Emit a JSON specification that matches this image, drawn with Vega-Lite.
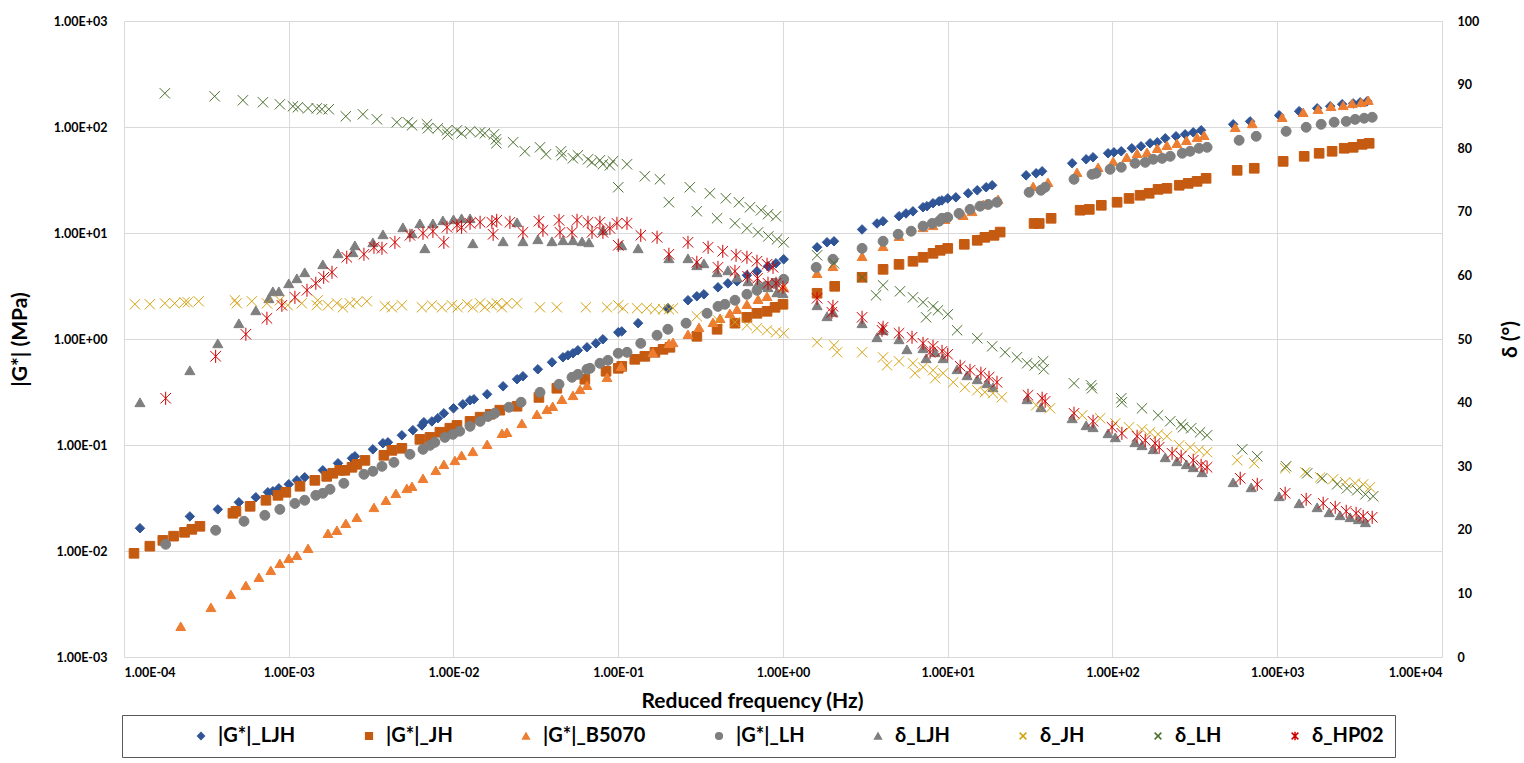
{
"$schema":"https://vega.github.io/schema/vega-lite/v6.json",
"width":1318,"height":636,
"autosize":{"type":"none"},
"padding":{"left":124,"top":21,"right":82,"bottom":106},
"background":"white",
"config":{"view":{"stroke":null},"font":"Lato",
"axis":{"labelColor":"#000","labelFontWeight":"bold","labelFontSize":12.5,"titleColor":"#000","titleFontWeight":"bold","gridColor":"#d9d9d9","gridWidth":1,"domain":false,"ticks":false},
"legend":{"labelFontSize":20,"labelFontWeight":"bold","labelColor":"#000","symbolSize":45,"symbolStrokeWidth":1.5,"orient":"none","legendX":-2,"legendY":694,"direction":"horizontal","columns":8,"columnPadding":63,"padding":11,"strokeColor":"#595959","labelOffset":7,"titleOrient":"left","titlePadding":58,"labelExpr":"datum.label == 'δ_HP02' ? 'δ_HP02                                 ' : datum.label"}},
"data":{"values":[
{"s":"|G*|_LJH","f":1.25e-4,"v":0.0164},{"s":"|G*|_LJH","f":2.51e-4,"v":0.0212},{"s":"|G*|_LJH","f":3.71e-4,"v":0.0247},{"s":"|G*|_LJH","f":4.98e-4,"v":0.0288},{"s":"|G*|_LJH","f":6.31e-4,"v":0.0321},{"s":"|G*|_LJH","f":7.47e-4,"v":0.0358},{"s":"|G*|_LJH","f":8.01e-4,"v":0.0366},{"s":"|G*|_LJH","f":8.71e-4,"v":0.039},{"s":"|G*|_LJH","f":1.0e-3,"v":0.0426},{"s":"|G*|_LJH","f":1.12e-3,"v":0.0464},{"s":"|G*|_LJH","f":1.25e-3,"v":0.0496},{"s":"|G*|_LJH","f":1.61e-3,"v":0.0577},{"s":"|G*|_LJH","f":1.99e-3,"v":0.0672},{"s":"|G*|_LJH","f":2.42e-3,"v":0.0749},{"s":"|G*|_LJH","f":2.52e-3,"v":0.0782},{"s":"|G*|_LJH","f":3.24e-3,"v":0.091},{"s":"|G*|_LJH","f":3.73e-3,"v":0.104},{"s":"|G*|_LJH","f":4.0e-3,"v":0.106},{"s":"|G*|_LJH","f":4.86e-3,"v":0.1235},{"s":"|G*|_LJH","f":5.67e-3,"v":0.138},{"s":"|G*|_LJH","f":6.43e-3,"v":0.153},{"s":"|G*|_LJH","f":6.61e-3,"v":0.164},{"s":"|G*|_LJH","f":7.39e-3,"v":0.167},{"s":"|G*|_LJH","f":8.04e-3,"v":0.179},{"s":"|G*|_LJH","f":8.74e-3,"v":0.199},{"s":"|G*|_LJH","f":1.0e-2,"v":0.222},{"s":"|G*|_LJH","f":1.14e-2,"v":0.242},{"s":"|G*|_LJH","f":1.26e-2,"v":0.264},{"s":"|G*|_LJH","f":1.33e-2,"v":0.27},{"s":"|G*|_LJH","f":1.6e-2,"v":0.301},{"s":"|G*|_LJH","f":2.0e-2,"v":0.358},{"s":"|G*|_LJH","f":2.43e-2,"v":0.417},{"s":"|G*|_LJH","f":2.64e-2,"v":0.445},{"s":"|G*|_LJH","f":3.25e-2,"v":0.518},{"s":"|G*|_LJH","f":3.96e-2,"v":0.603},{"s":"|G*|_LJH","f":4.62e-2,"v":0.672},{"s":"|G*|_LJH","f":4.95e-2,"v":0.702},{"s":"|G*|_LJH","f":5.31e-2,"v":0.733},{"s":"|G*|_LJH","f":5.69e-2,"v":0.782},{"s":"|G*|_LJH","f":6.46e-2,"v":0.835},{"s":"|G*|_LJH","f":7.32e-2,"v":0.91},{"s":"|G*|_LJH","f":8.07e-2,"v":0.994},{"s":"|G*|_LJH","f":0.1,"v":1.157},{"s":"|G*|_LJH","f":0.105,"v":1.18},{"s":"|G*|_LJH","f":0.132,"v":1.41},{"s":"|G*|_LJH","f":0.2,"v":1.95},{"s":"|G*|_LJH","f":0.265,"v":2.32},{"s":"|G*|_LJH","f":0.3,"v":2.53},{"s":"|G*|_LJH","f":0.331,"v":2.64},{"s":"|G*|_LJH","f":0.403,"v":3.07},{"s":"|G*|_LJH","f":0.463,"v":3.35},{"s":"|G*|_LJH","f":0.526,"v":3.5},{"s":"|G*|_LJH","f":0.604,"v":3.99},{"s":"|G*|_LJH","f":0.695,"v":4.35},{"s":"|G*|_LJH","f":0.811,"v":4.85},{"s":"|G*|_LJH","f":0.907,"v":5.18},{"s":"|G*|_LJH","f":1.01,"v":5.65},{"s":"|G*|_LJH","f":1.61,"v":7.33},{"s":"|G*|_LJH","f":1.85,"v":8.17},{"s":"|G*|_LJH","f":2.04,"v":8.35},{"s":"|G*|_LJH","f":3.02,"v":10.8},{"s":"|G*|_LJH","f":3.72,"v":12.3},{"s":"|G*|_LJH","f":4.05,"v":12.9},{"s":"|G*|_LJH","f":5.06,"v":14.4},{"s":"|G*|_LJH","f":5.58,"v":15.3},{"s":"|G*|_LJH","f":6.15,"v":16.0},{"s":"|G*|_LJH","f":7.08,"v":17.5},{"s":"|G*|_LJH","f":7.48,"v":17.9},{"s":"|G*|_LJH","f":8.14,"v":19.1},{"s":"|G*|_LJH","f":8.85,"v":19.9},{"s":"|G*|_LJH","f":9.23,"v":20.3},{"s":"|G*|_LJH","f":10.0,"v":21.2},{"s":"|G*|_LJH","f":11.2,"v":21.7},{"s":"|G*|_LJH","f":13.3,"v":23.7},{"s":"|G*|_LJH","f":15.1,"v":25.3},{"s":"|G*|_LJH","f":17.1,"v":27.0},{"s":"|G*|_LJH","f":18.6,"v":28.2},{"s":"|G*|_LJH","f":29.9,"v":35.0},{"s":"|G*|_LJH","f":34.4,"v":36.6},{"s":"|G*|_LJH","f":37.4,"v":38.2},{"s":"|G*|_LJH","f":56.9,"v":45.5},{"s":"|G*|_LJH","f":69.2,"v":49.6},{"s":"|G*|_LJH","f":76.2,"v":51.8},{"s":"|G*|_LJH","f":94.0,"v":56.5},{"s":"|G*|_LJH","f":102,"v":57.7},{"s":"|G*|_LJH","f":113,"v":59.0},{"s":"|G*|_LJH","f":131,"v":63.0},{"s":"|G*|_LJH","f":149,"v":65.8},{"s":"|G*|_LJH","f":169,"v":70.2},{"s":"|G*|_LJH","f":187,"v":71.7},{"s":"|G*|_LJH","f":209,"v":78.2},{"s":"|G*|_LJH","f":243,"v":81.7},{"s":"|G*|_LJH","f":276,"v":85.3},{"s":"|G*|_LJH","f":309,"v":89.1},{"s":"|G*|_LJH","f":345,"v":93.1},{"s":"|G*|_LJH","f":540,"v":106},{"s":"|G*|_LJH","f":684,"v":113},{"s":"|G*|_LJH","f":1027,"v":129},{"s":"|G*|_LJH","f":1358,"v":141},{"s":"|G*|_LJH","f":1747,"v":150},{"s":"|G*|_LJH","f":2096,"v":157},{"s":"|G*|_LJH","f":2478,"v":164},{"s":"|G*|_LJH","f":2890,"v":167},{"s":"|G*|_LJH","f":3187,"v":171},{"s":"|G*|_LJH","f":3515,"v":175},
{"s":"|G*|_JH","f":1.15e-4,"v":0.00951},{"s":"|G*|_JH","f":1.435e-4,"v":0.0111},{"s":"|G*|_JH","f":1.72e-4,"v":0.0126},{"s":"|G*|_JH","f":2.0e-4,"v":0.0138},{"s":"|G*|_JH","f":2.33e-4,"v":0.015},{"s":"|G*|_JH","f":2.58e-4,"v":0.016},{"s":"|G*|_JH","f":2.89e-4,"v":0.0171},{"s":"|G*|_JH","f":4.58e-4,"v":0.0227},{"s":"|G*|_JH","f":4.78e-4,"v":0.0237},{"s":"|G*|_JH","f":5.83e-4,"v":0.0264},{"s":"|G*|_JH","f":7.27e-4,"v":0.0301},{"s":"|G*|_JH","f":8.6e-4,"v":0.0335},{"s":"|G*|_JH","f":9.6e-4,"v":0.0358},{"s":"|G*|_JH","f":1.17e-3,"v":0.0408},{"s":"|G*|_JH","f":1.44e-3,"v":0.0464},{"s":"|G*|_JH","f":1.7e-3,"v":0.0506},{"s":"|G*|_JH","f":1.85e-3,"v":0.0541},{"s":"|G*|_JH","f":2.04e-3,"v":0.0577},{"s":"|G*|_JH","f":2.19e-3,"v":0.0577},{"s":"|G*|_JH","f":2.42e-3,"v":0.0616},{"s":"|G*|_JH","f":2.59e-3,"v":0.0657},{"s":"|G*|_JH","f":2.9e-3,"v":0.0716},{"s":"|G*|_JH","f":3.78e-3,"v":0.0799},{"s":"|G*|_JH","f":4.23e-3,"v":0.089},{"s":"|G*|_JH","f":4.86e-3,"v":0.0931},{"s":"|G*|_JH","f":6.25e-3,"v":0.113},{"s":"|G*|_JH","f":7.2e-3,"v":0.118},{"s":"|G*|_JH","f":8.27e-3,"v":0.132},{"s":"|G*|_JH","f":9.5e-3,"v":0.144},{"s":"|G*|_JH","f":1.05e-2,"v":0.153},{"s":"|G*|_JH","f":1.26e-2,"v":0.167},{"s":"|G*|_JH","f":1.45e-2,"v":0.183},{"s":"|G*|_JH","f":1.67e-2,"v":0.195},{"s":"|G*|_JH","f":1.91e-2,"v":0.213},{"s":"|G*|_JH","f":2.43e-2,"v":0.232},{"s":"|G*|_JH","f":3.3e-2,"v":0.281},{"s":"|G*|_JH","f":4.24e-2,"v":0.343},{"s":"|G*|_JH","f":6.27e-2,"v":0.417},{"s":"|G*|_JH","f":8.43e-2,"v":0.496},{"s":"|G*|_JH","f":0.1,"v":0.529},{"s":"|G*|_JH","f":0.105,"v":0.552},{"s":"|G*|_JH","f":0.126,"v":0.643},{"s":"|G*|_JH","f":0.145,"v":0.686},{"s":"|G*|_JH","f":0.167,"v":0.749},{"s":"|G*|_JH","f":0.187,"v":0.799},{"s":"|G*|_JH","f":0.206,"v":0.835},{"s":"|G*|_JH","f":0.3,"v":1.06},{"s":"|G*|_JH","f":0.398,"v":1.235},{"s":"|G*|_JH","f":0.511,"v":1.41},{"s":"|G*|_JH","f":0.604,"v":1.6},{"s":"|G*|_JH","f":0.695,"v":1.747},{"s":"|G*|_JH","f":0.8,"v":1.825},{"s":"|G*|_JH","f":0.895,"v":1.99},{"s":"|G*|_JH","f":1.0,"v":2.125},{"s":"|G*|_JH","f":1.61,"v":2.7},{"s":"|G*|_JH","f":2.06,"v":3.14},{"s":"|G*|_JH","f":3.02,"v":3.82},{"s":"|G*|_JH","f":4.05,"v":4.54},{"s":"|G*|_JH","f":5.06,"v":5.06},{"s":"|G*|_JH","f":6.15,"v":5.41},{"s":"|G*|_JH","f":7.08,"v":5.9},{"s":"|G*|_JH","f":8.14,"v":6.43},{"s":"|G*|_JH","f":9.0,"v":6.86},{"s":"|G*|_JH","f":10.0,"v":7.16},{"s":"|G*|_JH","f":12.6,"v":7.82},{"s":"|G*|_JH","f":15.1,"v":8.53},{"s":"|G*|_JH","f":16.8,"v":9.1},{"s":"|G*|_JH","f":19.1,"v":9.5},{"s":"|G*|_JH","f":20.8,"v":10.2},{"s":"|G*|_JH","f":33.4,"v":12.3},{"s":"|G*|_JH","f":35.9,"v":12.3},{"s":"|G*|_JH","f":42.4,"v":13.76},{"s":"|G*|_JH","f":63.6,"v":16.4},{"s":"|G*|_JH","f":72.3,"v":16.7},{"s":"|G*|_JH","f":85.5,"v":18.25},{"s":"|G*|_JH","f":106.6,"v":19.5},{"s":"|G*|_JH","f":126,"v":21.2},{"s":"|G*|_JH","f":147,"v":22.7},{"s":"|G*|_JH","f":167,"v":23.7},{"s":"|G*|_JH","f":189,"v":25.8},{"s":"|G*|_JH","f":214,"v":26.4},{"s":"|G*|_JH","f":254,"v":28.2},{"s":"|G*|_JH","f":288,"v":29.4},{"s":"|G*|_JH","f":326,"v":30.7},{"s":"|G*|_JH","f":370,"v":32.8},{"s":"|G*|_JH","f":571,"v":39.0},{"s":"|G*|_JH","f":725,"v":40.8},{"s":"|G*|_JH","f":1086,"v":47.4},{"s":"|G*|_JH","f":1457,"v":52.9},{"s":"|G*|_JH","f":1796,"v":56.5},{"s":"|G*|_JH","f":2153,"v":59.0},{"s":"|G*|_JH","f":2549,"v":63.0},{"s":"|G*|_JH","f":2890,"v":64.3},{"s":"|G*|_JH","f":3277,"v":68.6},{"s":"|G*|_JH","f":3614,"v":70.2},
{"s":"|G*|_B5070","f":2.21e-4,"v":0.00195},{"s":"|G*|_B5070","f":3.37e-4,"v":0.00294},{"s":"|G*|_B5070","f":4.45e-4,"v":0.0039},{"s":"|G*|_B5070","f":5.49e-4,"v":0.00474},{"s":"|G*|_B5070","f":6.59e-4,"v":0.00565},{"s":"|G*|_B5070","f":7.78e-4,"v":0.00657},{"s":"|G*|_B5070","f":8.83e-4,"v":0.00765},{"s":"|G*|_B5070","f":1.0e-3,"v":0.00853},{"s":"|G*|_B5070","f":1.12e-3,"v":0.0091},{"s":"|G*|_B5070","f":1.31e-3,"v":0.0106},{"s":"|G*|_B5070","f":1.73e-3,"v":0.0147},{"s":"|G*|_B5070","f":1.96e-3,"v":0.0157},{"s":"|G*|_B5070","f":2.22e-3,"v":0.01825},{"s":"|G*|_B5070","f":2.59e-3,"v":0.0208},{"s":"|G*|_B5070","f":3.29e-3,"v":0.0258},{"s":"|G*|_B5070","f":3.89e-3,"v":0.0301},{"s":"|G*|_B5070","f":4.47e-3,"v":0.035},{"s":"|G*|_B5070","f":5.21e-3,"v":0.039},{"s":"|G*|_B5070","f":5.6e-3,"v":0.0408},{"s":"|G*|_B5070","f":6.53e-3,"v":0.0485},{"s":"|G*|_B5070","f":7.81e-3,"v":0.0577},{"s":"|G*|_B5070","f":8.74e-3,"v":0.0657},{"s":"|G*|_B5070","f":1.02e-2,"v":0.0716},{"s":"|G*|_B5070","f":1.12e-2,"v":0.0799},{"s":"|G*|_B5070","f":1.31e-2,"v":0.0871},{"s":"|G*|_B5070","f":1.6e-2,"v":0.1015},{"s":"|G*|_B5070","f":1.97e-2,"v":0.129},{"s":"|G*|_B5070","f":2.11e-2,"v":0.132},{"s":"|G*|_B5070","f":2.6e-2,"v":0.16},{"s":"|G*|_B5070","f":3.21e-2,"v":0.195},{"s":"|G*|_B5070","f":3.69e-2,"v":0.217},{"s":"|G*|_B5070","f":4.0e-2,"v":0.232},{"s":"|G*|_B5070","f":4.55e-2,"v":0.27},{"s":"|G*|_B5070","f":5.31e-2,"v":0.294},{"s":"|G*|_B5070","f":5.86e-2,"v":0.335},{"s":"|G*|_B5070","f":6.46e-2,"v":0.366},{"s":"|G*|_B5070","f":8.55e-2,"v":0.435},{"s":"|G*|_B5070","f":0.104,"v":0.552},{"s":"|G*|_B5070","f":0.162,"v":0.749},{"s":"|G*|_B5070","f":0.203,"v":0.91},{"s":"|G*|_B5070","f":0.215,"v":0.93},{"s":"|G*|_B5070","f":0.265,"v":1.108},{"s":"|G*|_B5070","f":0.309,"v":1.29},{"s":"|G*|_B5070","f":0.376,"v":1.437},{"s":"|G*|_B5070","f":0.415,"v":1.57},{"s":"|G*|_B5070","f":0.476,"v":1.747},{"s":"|G*|_B5070","f":0.526,"v":1.906},{"s":"|G*|_B5070","f":0.604,"v":2.125},{"s":"|G*|_B5070","f":0.706,"v":2.37},{"s":"|G*|_B5070","f":0.8,"v":2.53},{"s":"|G*|_B5070","f":0.92,"v":2.755},{"s":"|G*|_B5070","f":1.01,"v":3.07},{"s":"|G*|_B5070","f":1.61,"v":4.17},{"s":"|G*|_B5070","f":2.01,"v":4.85},{"s":"|G*|_B5070","f":3.02,"v":6.03},{"s":"|G*|_B5070","f":4.05,"v":7.49},{"s":"|G*|_B5070","f":5.06,"v":9.31},{"s":"|G*|_B5070","f":7.08,"v":11.3},{"s":"|G*|_B5070","f":8.14,"v":11.8},{"s":"|G*|_B5070","f":9.63,"v":13.5},{"s":"|G*|_B5070","f":12.4,"v":14.7},{"s":"|G*|_B5070","f":14.05,"v":16.0},{"s":"|G*|_B5070","f":16.4,"v":18.6},{"s":"|G*|_B5070","f":20.2,"v":20.8},{"s":"|G*|_B5070","f":33.0,"v":27.55},{"s":"|G*|_B5070","f":40.6,"v":30.1},{"s":"|G*|_B5070","f":60.9,"v":37.4},{"s":"|G*|_B5070","f":81.8,"v":41.7},{"s":"|G*|_B5070","f":101,"v":47.4},{"s":"|G*|_B5070","f":122,"v":51.8},{"s":"|G*|_B5070","f":141,"v":56.5},{"s":"|G*|_B5070","f":162,"v":57.7},{"s":"|G*|_B5070","f":187,"v":63.0},{"s":"|G*|_B5070","f":214,"v":67.2},{"s":"|G*|_B5070","f":246,"v":70.2},{"s":"|G*|_B5070","f":281,"v":74.9},{"s":"|G*|_B5070","f":326,"v":79.9},{"s":"|G*|_B5070","f":360,"v":83.5},{"s":"|G*|_B5070","f":556,"v":99.3},{"s":"|G*|_B5070","f":705,"v":108},{"s":"|G*|_B5070","f":1071,"v":123.5},{"s":"|G*|_B5070","f":1437,"v":137.6},{"s":"|G*|_B5070","f":1770,"v":147},{"s":"|G*|_B5070","f":2120,"v":157},{"s":"|G*|_B5070","f":2513,"v":160},{"s":"|G*|_B5070","f":2850,"v":167},{"s":"|G*|_B5070","f":3230,"v":171},{"s":"|G*|_B5070","f":3570,"v":179},
{"s":"|G*|_LH","f":1.79e-4,"v":0.01157},{"s":"|G*|_LH","f":3.6e-4,"v":0.0157},{"s":"|G*|_LH","f":5.35e-4,"v":0.01906},{"s":"|G*|_LH","f":7.16e-4,"v":0.0217},{"s":"|G*|_LH","f":8.83e-4,"v":0.0247},{"s":"|G*|_LH","f":1.09e-3,"v":0.0281},{"s":"|G*|_LH","f":1.25e-3,"v":0.0301},{"s":"|G*|_LH","f":1.46e-3,"v":0.0335},{"s":"|G*|_LH","f":1.61e-3,"v":0.035},{"s":"|G*|_LH","f":1.78e-3,"v":0.0382},{"s":"|G*|_LH","f":2.16e-3,"v":0.0435},{"s":"|G*|_LH","f":2.86e-3,"v":0.0529},{"s":"|G*|_LH","f":3.24e-3,"v":0.0565},{"s":"|G*|_LH","f":3.68e-3,"v":0.0629},{"s":"|G*|_LH","f":4.35e-3,"v":0.0686},{"s":"|G*|_LH","f":5.44e-3,"v":0.0817},{"s":"|G*|_LH","f":6.53e-3,"v":0.091},{"s":"|G*|_LH","f":7.2e-3,"v":0.0993},{"s":"|G*|_LH","f":7.7e-3,"v":0.106},{"s":"|G*|_LH","f":8.86e-3,"v":0.118},{"s":"|G*|_LH","f":9.92e-3,"v":0.126},{"s":"|G*|_LH","f":1.09e-2,"v":0.135},{"s":"|G*|_LH","f":1.26e-2,"v":0.15},{"s":"|G*|_LH","f":1.45e-2,"v":0.167},{"s":"|G*|_LH","f":1.62e-2,"v":0.186},{"s":"|G*|_LH","f":1.78e-2,"v":0.199},{"s":"|G*|_LH","f":2.17e-2,"v":0.227},{"s":"|G*|_LH","f":2.57e-2,"v":0.253},{"s":"|G*|_LH","f":3.35e-2,"v":0.314},{"s":"|G*|_LH","f":4.37e-2,"v":0.374},{"s":"|G*|_LH","f":5.24e-2,"v":0.435},{"s":"|G*|_LH","f":5.69e-2,"v":0.464},{"s":"|G*|_LH","f":6.46e-2,"v":0.518},{"s":"|G*|_LH","f":6.74e-2,"v":0.529},{"s":"|G*|_LH","f":7.74e-2,"v":0.59},{"s":"|G*|_LH","f":8.66e-2,"v":0.629},{"s":"|G*|_LH","f":0.1,"v":0.733},{"s":"|G*|_LH","f":0.113,"v":0.749},{"s":"|G*|_LH","f":0.137,"v":0.91},{"s":"|G*|_LH","f":0.172,"v":1.084},{"s":"|G*|_LH","f":0.2,"v":1.235},{"s":"|G*|_LH","f":0.258,"v":1.41},{"s":"|G*|_LH","f":0.346,"v":1.747},{"s":"|G*|_LH","f":0.403,"v":2.03},{"s":"|G*|_LH","f":0.444,"v":2.125},{"s":"|G*|_LH","f":0.511,"v":2.32},{"s":"|G*|_LH","f":0.604,"v":2.64},{"s":"|G*|_LH","f":0.695,"v":2.88},{"s":"|G*|_LH","f":0.79,"v":3.14},{"s":"|G*|_LH","f":0.895,"v":3.35},{"s":"|G*|_LH","f":1.01,"v":3.66},{"s":"|G*|_LH","f":1.59,"v":4.74},{"s":"|G*|_LH","f":2.01,"v":5.65},{"s":"|G*|_LH","f":3.02,"v":7.16},{"s":"|G*|_LH","f":4.05,"v":8.35},{"s":"|G*|_LH","f":5.0,"v":9.73},{"s":"|G*|_LH","f":6.0,"v":10.4},{"s":"|G*|_LH","f":7.08,"v":11.6},{"s":"|G*|_LH","f":8.04,"v":12.3},{"s":"|G*|_LH","f":8.85,"v":12.9},{"s":"|G*|_LH","f":9.23,"v":13.76},{"s":"|G*|_LH","f":10.0,"v":14.05},{"s":"|G*|_LH","f":11.7,"v":15.3},{"s":"|G*|_LH","f":13.65,"v":16.7},{"s":"|G*|_LH","f":15.7,"v":17.9},{"s":"|G*|_LH","f":17.6,"v":18.6},{"s":"|G*|_LH","f":19.9,"v":19.5},{"s":"|G*|_LH","f":31.2,"v":24.2},{"s":"|G*|_LH","f":36.8,"v":25.3},{"s":"|G*|_LH","f":39.0,"v":27.0},{"s":"|G*|_LH","f":58.4,"v":32.1},{"s":"|G*|_LH","f":75.1,"v":35.8},{"s":"|G*|_LH","f":79.5,"v":36.6},{"s":"|G*|_LH","f":96.7,"v":39.9},{"s":"|G*|_LH","f":113,"v":41.7},{"s":"|G*|_LH","f":137,"v":45.5},{"s":"|G*|_LH","f":158,"v":46.4},{"s":"|G*|_LH","f":176.5,"v":49.6},{"s":"|G*|_LH","f":200,"v":50.6},{"s":"|G*|_LH","f":224,"v":52.9},{"s":"|G*|_LH","f":265,"v":56.5},{"s":"|G*|_LH","f":296,"v":59.0},{"s":"|G*|_LH","f":335,"v":63.0},{"s":"|G*|_LH","f":375,"v":64.3},{"s":"|G*|_LH","f":587,"v":74.9},{"s":"|G*|_LH","f":745,"v":81.7},{"s":"|G*|_LH","f":1132,"v":91},{"s":"|G*|_LH","f":1498,"v":99.4},{"s":"|G*|_LH","f":1847,"v":106},{"s":"|G*|_LH","f":2215,"v":111},{"s":"|G*|_LH","f":2622,"v":113},{"s":"|G*|_LH","f":2970,"v":118},{"s":"|G*|_LH","f":3370,"v":121},{"s":"|G*|_LH","f":3770,"v":123.5},
{"s":"δ_LJH","f":1.25e-4,"v":40.05},{"s":"δ_LJH","f":2.51e-4,"v":45.08},{"s":"δ_LJH","f":3.71e-4,"v":49.32},{"s":"δ_LJH","f":4.98e-4,"v":52.47},{"s":"δ_LJH","f":6.31e-4,"v":54.51},{"s":"δ_LJH","f":7.58e-4,"v":56.4},{"s":"δ_LJH","f":8.01e-4,"v":57.5},{"s":"δ_LJH","f":8.71e-4,"v":57.5},{"s":"δ_LJH","f":1.0e-3,"v":58.76},{"s":"δ_LJH","f":1.12e-3,"v":59.54},{"s":"δ_LJH","f":1.25e-3,"v":60.49},{"s":"δ_LJH","f":1.61e-3,"v":61.75},{"s":"δ_LJH","f":1.99e-3,"v":63.47},{"s":"δ_LJH","f":2.45e-3,"v":63.63},{"s":"δ_LJH","f":2.52e-3,"v":64.73},{"s":"δ_LJH","f":3.24e-3,"v":65.2},{"s":"δ_LJH","f":3.73e-3,"v":66.46},{"s":"δ_LJH","f":4.93e-3,"v":67.56},{"s":"δ_LJH","f":5.6e-3,"v":66.62},{"s":"δ_LJH","f":6.25e-3,"v":68.19},{"s":"δ_LJH","f":6.7e-3,"v":64.26},{"s":"δ_LJH","f":7.5e-3,"v":68.19},{"s":"δ_LJH","f":8.62e-3,"v":68.66},{"s":"δ_LJH","f":1.0e-2,"v":68.82},{"s":"δ_LJH","f":1.12e-2,"v":68.98},{"s":"δ_LJH","f":1.26e-2,"v":68.98},{"s":"δ_LJH","f":1.31e-2,"v":65.05},{"s":"δ_LJH","f":2.0e-2,"v":65.36},{"s":"δ_LJH","f":2.43e-2,"v":68.35},{"s":"δ_LJH","f":2.64e-2,"v":65.36},{"s":"δ_LJH","f":3.25e-2,"v":65.68},{"s":"δ_LJH","f":3.96e-2,"v":65.36},{"s":"δ_LJH","f":4.62e-2,"v":65.52},{"s":"δ_LJH","f":5.31e-2,"v":65.52},{"s":"δ_LJH","f":6.03e-2,"v":65.36},{"s":"δ_LJH","f":6.64e-2,"v":65.2},{"s":"δ_LJH","f":8.07e-2,"v":67.09},{"s":"δ_LJH","f":0.105,"v":64.73},{"s":"δ_LJH","f":0.132,"v":64.26},{"s":"δ_LJH","f":0.203,"v":62.69},{"s":"δ_LJH","f":0.265,"v":62.69},{"s":"δ_LJH","f":0.3,"v":61.59},{"s":"δ_LJH","f":0.331,"v":61.9},{"s":"δ_LJH","f":0.398,"v":60.49},{"s":"δ_LJH","f":0.463,"v":60.8},{"s":"δ_LJH","f":0.526,"v":59.7},{"s":"δ_LJH","f":0.613,"v":59.07},{"s":"δ_LJH","f":0.706,"v":58.76},{"s":"δ_LJH","f":0.811,"v":58.13},{"s":"δ_LJH","f":0.92,"v":57.34},{"s":"δ_LJH","f":1.0,"v":57.19},{"s":"δ_LJH","f":1.61,"v":55.3},{"s":"δ_LJH","f":1.85,"v":53.57},{"s":"δ_LJH","f":2.01,"v":54.2},{"s":"δ_LJH","f":3.02,"v":52.47},{"s":"δ_LJH","f":3.72,"v":50.27},{"s":"δ_LJH","f":4.05,"v":51.37},{"s":"δ_LJH","f":5.06,"v":49.95},{"s":"δ_LJH","f":5.65,"v":48.38},{"s":"δ_LJH","f":7.08,"v":48.54},{"s":"δ_LJH","f":7.39,"v":46.97},{"s":"δ_LJH","f":8.38,"v":47.91},{"s":"δ_LJH","f":9.37,"v":46.97},{"s":"δ_LJH","f":11.4,"v":45.24},{"s":"δ_LJH","f":13.1,"v":44.29},{"s":"δ_LJH","f":15.1,"v":43.66},{"s":"δ_LJH","f":17.3,"v":43.03},{"s":"δ_LJH","f":18.8,"v":42.41},{"s":"δ_LJH","f":30.3,"v":40.52},{"s":"δ_LJH","f":36.8,"v":39.26},{"s":"δ_LJH","f":56.9,"v":37.53},{"s":"δ_LJH","f":69.2,"v":36.43},{"s":"δ_LJH","f":76.2,"v":36.12},{"s":"δ_LJH","f":94.0,"v":35.17},{"s":"δ_LJH","f":104,"v":34.54},{"s":"δ_LJH","f":137,"v":33.76},{"s":"δ_LJH","f":151,"v":33.29},{"s":"δ_LJH","f":176.5,"v":32.66},{"s":"δ_LJH","f":209,"v":31.4},{"s":"δ_LJH","f":246,"v":30.77},{"s":"δ_LJH","f":281,"v":30.3},{"s":"δ_LJH","f":309,"v":29.83},{"s":"δ_LJH","f":350,"v":29.04},{"s":"δ_LJH","f":540,"v":27.47},{"s":"δ_LJH","f":695,"v":26.68},{"s":"δ_LJH","f":1027,"v":25.27},{"s":"δ_LJH","f":1358,"v":24.17},{"s":"δ_LJH","f":1747,"v":23.54},{"s":"δ_LJH","f":2067,"v":22.75},{"s":"δ_LJH","f":2405,"v":22.28},{"s":"δ_LJH","f":2770,"v":21.97},{"s":"δ_LJH","f":3110,"v":21.65},{"s":"δ_LJH","f":3430,"v":21.18},
{"s":"δ_JH","f":1.165e-4,"v":55.46},{"s":"δ_JH","f":1.435e-4,"v":55.46},{"s":"δ_JH","f":1.77e-4,"v":55.61},{"s":"δ_JH","f":2.03e-4,"v":55.61},{"s":"δ_JH","f":2.33e-4,"v":55.77},{"s":"δ_JH","f":2.44e-4,"v":55.77},{"s":"δ_JH","f":2.84e-4,"v":55.93},{"s":"δ_JH","f":4.71e-4,"v":56.08},{"s":"δ_JH","f":4.84e-4,"v":55.61},{"s":"δ_JH","f":5.97e-4,"v":55.93},{"s":"δ_JH","f":7.37e-4,"v":55.61},{"s":"δ_JH","f":8.83e-4,"v":56.08},{"s":"δ_JH","f":9.87e-4,"v":55.3},{"s":"δ_JH","f":1.2e-3,"v":55.61},{"s":"δ_JH","f":1.48e-3,"v":55.3},{"s":"δ_JH","f":1.5e-3,"v":56.08},{"s":"δ_JH","f":1.73e-3,"v":55.3},{"s":"δ_JH","f":1.96e-3,"v":55.61},{"s":"δ_JH","f":2.13e-3,"v":54.98},{"s":"δ_JH","f":2.35e-3,"v":55.61},{"s":"δ_JH","f":2.59e-3,"v":55.77},{"s":"δ_JH","f":2.98e-3,"v":55.93},{"s":"δ_JH","f":3.83e-3,"v":55.14},{"s":"δ_JH","f":4.23e-3,"v":54.98},{"s":"δ_JH","f":4.86e-3,"v":55.3},{"s":"δ_JH","f":6.43e-3,"v":54.98},{"s":"δ_JH","f":7.39e-3,"v":55.3},{"s":"δ_JH","f":8.51e-3,"v":54.98},{"s":"δ_JH","f":9.78e-3,"v":55.3},{"s":"δ_JH","f":1.06e-2,"v":54.98},{"s":"δ_JH","f":1.21e-2,"v":55.46},{"s":"δ_JH","f":1.31e-2,"v":54.98},{"s":"δ_JH","f":1.45e-2,"v":55.61},{"s":"δ_JH","f":1.55e-2,"v":54.98},{"s":"δ_JH","f":1.71e-2,"v":55.3},{"s":"δ_JH","f":1.83e-2,"v":55.61},{"s":"δ_JH","f":1.97e-2,"v":54.98},{"s":"δ_JH","f":2.11e-2,"v":55.61},{"s":"δ_JH","f":2.43e-2,"v":55.61},{"s":"δ_JH","f":3.35e-2,"v":54.98},{"s":"δ_JH","f":4.24e-2,"v":54.98},{"s":"δ_JH","f":6.36e-2,"v":54.98},{"s":"δ_JH","f":8.55e-2,"v":54.98},{"s":"δ_JH","f":0.1,"v":55.3},{"s":"δ_JH","f":0.107,"v":54.83},{"s":"δ_JH","f":0.13,"v":54.83},{"s":"δ_JH","f":0.149,"v":54.83},{"s":"δ_JH","f":0.167,"v":54.67},{"s":"δ_JH","f":0.187,"v":54.67},{"s":"δ_JH","f":0.203,"v":54.67},{"s":"δ_JH","f":0.215,"v":54.83},{"s":"δ_JH","f":0.3,"v":53.57},{"s":"δ_JH","f":0.403,"v":52.94},{"s":"δ_JH","f":0.511,"v":52.63},{"s":"δ_JH","f":0.604,"v":52.15},{"s":"δ_JH","f":0.695,"v":51.68},{"s":"δ_JH","f":0.8,"v":51.37},{"s":"δ_JH","f":0.907,"v":51.05},{"s":"δ_JH","f":1.01,"v":50.9},{"s":"δ_JH","f":1.61,"v":49.48},{"s":"δ_JH","f":2.04,"v":49.01},{"s":"δ_JH","f":2.13,"v":47.91},{"s":"δ_JH","f":3.02,"v":47.91},{"s":"δ_JH","f":4.05,"v":47.12},{"s":"δ_JH","f":4.28,"v":45.86},{"s":"δ_JH","f":5.06,"v":46.49},{"s":"δ_JH","f":6.15,"v":46.18},{"s":"δ_JH","f":6.33,"v":44.61},{"s":"δ_JH","f":7.08,"v":45.55},{"s":"δ_JH","f":8.14,"v":45.08},{"s":"δ_JH","f":8.38,"v":43.82},{"s":"δ_JH","f":9.37,"v":44.61},{"s":"δ_JH","f":10.8,"v":43.19},{"s":"δ_JH","f":12.7,"v":42.41},{"s":"δ_JH","f":15.1,"v":41.93},{"s":"δ_JH","f":16.8,"v":41.62},{"s":"δ_JH","f":18.8,"v":41.46},{"s":"δ_JH","f":21.3,"v":40.83},{"s":"δ_JH","f":34.4,"v":39.57},{"s":"δ_JH","f":41.8,"v":39.1},{"s":"δ_JH","f":65.5,"v":38.0},{"s":"δ_JH","f":84.2,"v":37.53},{"s":"δ_JH","f":104,"v":36.75},{"s":"δ_JH","f":126,"v":36.12},{"s":"δ_JH","f":151,"v":35.8},{"s":"δ_JH","f":169,"v":35.33},{"s":"δ_JH","f":189,"v":35.02},{"s":"δ_JH","f":214,"v":34.7},{"s":"δ_JH","f":254,"v":33.29},{"s":"δ_JH","f":296,"v":32.97},{"s":"δ_JH","f":335,"v":32.5},{"s":"δ_JH","f":375,"v":32.19},{"s":"δ_JH","f":571,"v":30.93},{"s":"δ_JH","f":725,"v":30.46},{"s":"δ_JH","f":1117,"v":29.67},{"s":"δ_JH","f":1477,"v":29.04},{"s":"δ_JH","f":1822,"v":28.25},{"s":"δ_JH","f":2183,"v":27.94},{"s":"δ_JH","f":2586,"v":27.47},{"s":"δ_JH","f":2970,"v":27.31},{"s":"δ_JH","f":3323,"v":27.15},{"s":"δ_JH","f":3650,"v":26.68},
{"s":"δ_LH","f":1.77e-4,"v":88.63},{"s":"δ_LH","f":3.55e-4,"v":88.16},{"s":"δ_LH","f":5.27e-4,"v":87.53},{"s":"δ_LH","f":6.97e-4,"v":87.22},{"s":"δ_LH","f":8.83e-4,"v":86.9},{"s":"δ_LH","f":1.06e-3,"v":86.59},{"s":"δ_LH","f":1.136e-3,"v":86.43},{"s":"δ_LH","f":1.31e-3,"v":86.27},{"s":"δ_LH","f":1.48e-3,"v":86.27},{"s":"δ_LH","f":1.59e-3,"v":86.12},{"s":"δ_LH","f":1.75e-3,"v":86.12},{"s":"δ_LH","f":2.22e-3,"v":85.01},{"s":"δ_LH","f":2.82e-3,"v":85.33},{"s":"δ_LH","f":3.43e-3,"v":84.54},{"s":"δ_LH","f":4.53e-3,"v":84.07},{"s":"δ_LH","f":5.29e-3,"v":84.07},{"s":"δ_LH","f":5.6e-3,"v":83.6},{"s":"δ_LH","f":6.9e-3,"v":83.76},{"s":"δ_LH","f":7.0e-3,"v":83.13},{"s":"δ_LH","f":8.04e-3,"v":83.13},{"s":"δ_LH","f":9.13e-3,"v":82.81},{"s":"δ_LH","f":9.2e-3,"v":82.18},{"s":"δ_LH","f":1.05e-2,"v":82.81},{"s":"δ_LH","f":1.12e-2,"v":82.34},{"s":"δ_LH","f":1.26e-2,"v":82.65},{"s":"δ_LH","f":1.45e-2,"v":82.5},{"s":"δ_LH","f":1.55e-2,"v":82.34},{"s":"δ_LH","f":1.76e-2,"v":82.18},{"s":"δ_LH","f":1.81e-2,"v":81.4},{"s":"δ_LH","f":1.82e-2,"v":80.77},{"s":"δ_LH","f":2.3e-2,"v":80.93},{"s":"δ_LH","f":2.71e-2,"v":79.51},{"s":"δ_LH","f":3.35e-2,"v":80.14},{"s":"δ_LH","f":3.64e-2,"v":79.04},{"s":"δ_LH","f":4.49e-2,"v":79.51},{"s":"δ_LH","f":4.55e-2,"v":78.88},{"s":"δ_LH","f":5.31e-2,"v":78.41},{"s":"δ_LH","f":5.69e-2,"v":78.88},{"s":"δ_LH","f":6.55e-2,"v":78.25},{"s":"δ_LH","f":6.93e-2,"v":77.78},{"s":"δ_LH","f":7.74e-2,"v":78.1},{"s":"δ_LH","f":8.07e-2,"v":77.47},{"s":"δ_LH","f":8.9e-2,"v":77.31},{"s":"δ_LH","f":9.28e-2,"v":77.94},{"s":"δ_LH","f":0.1,"v":73.86},{"s":"δ_LH","f":0.113,"v":77.47},{"s":"δ_LH","f":0.145,"v":75.58},{"s":"δ_LH","f":0.179,"v":75.11},{"s":"δ_LH","f":0.203,"v":71.5},{"s":"δ_LH","f":0.272,"v":73.86},{"s":"δ_LH","f":0.3,"v":70.08},{"s":"δ_LH","f":0.36,"v":72.91},{"s":"δ_LH","f":0.398,"v":68.98},{"s":"δ_LH","f":0.45,"v":72.12},{"s":"δ_LH","f":0.511,"v":68.19},{"s":"δ_LH","f":0.54,"v":71.5},{"s":"δ_LH","f":0.604,"v":67.4},{"s":"δ_LH","f":0.63,"v":70.71},{"s":"δ_LH","f":0.706,"v":66.77},{"s":"δ_LH","f":0.736,"v":70.24},{"s":"δ_LH","f":0.811,"v":69.61},{"s":"δ_LH","f":0.815,"v":66.14},{"s":"δ_LH","f":0.907,"v":69.29},{"s":"δ_LH","f":0.92,"v":65.67},{"s":"δ_LH","f":1.01,"v":65.2},{"s":"δ_LH","f":1.61,"v":63.16},{"s":"δ_LH","f":2.04,"v":61.9},{"s":"δ_LH","f":3.02,"v":59.7},{"s":"δ_LH","f":3.67,"v":56.87},{"s":"δ_LH","f":4.05,"v":58.44},{"s":"δ_LH","f":5.13,"v":57.5},{"s":"δ_LH","f":6.15,"v":56.55},{"s":"δ_LH","f":7.08,"v":55.77},{"s":"δ_LH","f":7.39,"v":53.41},{"s":"δ_LH","f":8.14,"v":55.14},{"s":"δ_LH","f":8.72,"v":54.51},{"s":"δ_LH","f":10.0,"v":53.88},{"s":"δ_LH","f":11.4,"v":51.37},{"s":"δ_LH","f":15.1,"v":50.11},{"s":"δ_LH","f":18.6,"v":48.85},{"s":"δ_LH","f":22.3,"v":47.91},{"s":"δ_LH","f":26.3,"v":47.12},{"s":"δ_LH","f":30.3,"v":46.18},{"s":"δ_LH","f":33.8,"v":45.86},{"s":"δ_LH","f":37.9,"v":46.49},{"s":"δ_LH","f":38.2,"v":45.24},{"s":"δ_LH","f":58.4,"v":43.03},{"s":"δ_LH","f":74.1,"v":42.72},{"s":"δ_LH","f":75.1,"v":42.25},{"s":"δ_LH","f":113,"v":40.68},{"s":"δ_LH","f":114,"v":40.05},{"s":"δ_LH","f":151,"v":39.1},{"s":"δ_LH","f":189,"v":38.0},{"s":"δ_LH","f":224,"v":37.06},{"s":"δ_LH","f":261,"v":36.59},{"s":"δ_LH","f":268,"v":36.12},{"s":"δ_LH","f":300,"v":35.96},{"s":"δ_LH","f":340,"v":35.33},{"s":"δ_LH","f":375,"v":34.86},{"s":"δ_LH","f":613,"v":32.66},{"s":"δ_LH","f":756,"v":31.56},{"s":"δ_LH","f":1132,"v":29.99},{"s":"δ_LH","f":1520,"v":28.88},{"s":"δ_LH","f":1874,"v":28.1},{"s":"δ_LH","f":2310,"v":27.15},{"s":"δ_LH","f":2650,"v":26.52},{"s":"δ_LH","f":3058,"v":26.21},{"s":"δ_LH","f":3430,"v":25.58},{"s":"δ_LH","f":3820,"v":25.27},
{"s":"δ_HP02","f":1.79e-4,"v":40.68},{"s":"δ_HP02","f":3.6e-4,"v":47.28},{"s":"δ_HP02","f":5.49e-4,"v":50.74},{"s":"δ_HP02","f":7.37e-4,"v":53.25},{"s":"δ_HP02","f":9.08e-4,"v":55.3},{"s":"δ_HP02","f":1.09e-3,"v":56.55},{"s":"δ_HP02","f":1.29e-3,"v":57.66},{"s":"δ_HP02","f":1.46e-3,"v":58.76},{"s":"δ_HP02","f":1.63e-3,"v":59.7},{"s":"δ_HP02","f":1.83e-3,"v":60.49},{"s":"δ_HP02","f":2.25e-3,"v":62.85},{"s":"δ_HP02","f":2.86e-3,"v":63.32},{"s":"δ_HP02","f":3.29e-3,"v":64.42},{"s":"δ_HP02","f":3.68e-3,"v":64.26},{"s":"δ_HP02","f":4.41e-3,"v":65.2},{"s":"δ_HP02","f":5.44e-3,"v":66.3},{"s":"δ_HP02","f":6.53e-3,"v":66.62},{"s":"δ_HP02","f":7.5e-3,"v":66.93},{"s":"δ_HP02","f":8.74e-3,"v":65.2},{"s":"δ_HP02","f":9.13e-3,"v":67.56},{"s":"δ_HP02","f":1.05e-2,"v":67.88},{"s":"δ_HP02","f":1.12e-2,"v":67.56},{"s":"δ_HP02","f":1.26e-2,"v":68.19},{"s":"δ_HP02","f":1.45e-2,"v":68.35},{"s":"δ_HP02","f":1.71e-2,"v":68.35},{"s":"δ_HP02","f":1.74e-2,"v":66.46},{"s":"δ_HP02","f":1.83e-2,"v":68.66},{"s":"δ_HP02","f":2.2e-2,"v":68.35},{"s":"δ_HP02","f":2.64e-2,"v":66.77},{"s":"δ_HP02","f":3.3e-2,"v":68.51},{"s":"δ_HP02","f":3.49e-2,"v":67.09},{"s":"δ_HP02","f":4.37e-2,"v":68.66},{"s":"δ_HP02","f":4.43e-2,"v":66.77},{"s":"δ_HP02","f":5.24e-2,"v":66.77},{"s":"δ_HP02","f":5.62e-2,"v":68.66},{"s":"δ_HP02","f":6.55e-2,"v":68.35},{"s":"δ_HP02","f":6.93e-2,"v":66.77},{"s":"δ_HP02","f":7.74e-2,"v":68.35},{"s":"δ_HP02","f":8.07e-2,"v":66.77},{"s":"δ_HP02","f":8.9e-2,"v":67.4},{"s":"δ_HP02","f":9.82e-2,"v":68.19},{"s":"δ_HP02","f":0.1,"v":64.73},{"s":"δ_HP02","f":0.113,"v":68.19},{"s":"δ_HP02","f":0.137,"v":66.3},{"s":"δ_HP02","f":0.172,"v":65.99},{"s":"δ_HP02","f":0.203,"v":63.32},{"s":"δ_HP02","f":0.265,"v":65.2},{"s":"δ_HP02","f":0.3,"v":62.06},{"s":"δ_HP02","f":0.351,"v":64.42},{"s":"δ_HP02","f":0.403,"v":61.27},{"s":"δ_HP02","f":0.431,"v":63.79},{"s":"δ_HP02","f":0.511,"v":60.64},{"s":"δ_HP02","f":0.519,"v":63.16},{"s":"δ_HP02","f":0.604,"v":62.85},{"s":"δ_HP02","f":0.61,"v":59.86},{"s":"δ_HP02","f":0.695,"v":62.22},{"s":"δ_HP02","f":0.7,"v":59.54},{"s":"δ_HP02","f":0.8,"v":61.75},{"s":"δ_HP02","f":0.811,"v":58.76},{"s":"δ_HP02","f":0.87,"v":61.27},{"s":"δ_HP02","f":0.907,"v":58.76},{"s":"δ_HP02","f":1.0,"v":58.13},{"s":"δ_HP02","f":1.61,"v":56.4},{"s":"δ_HP02","f":1.98,"v":54.2},{"s":"δ_HP02","f":2.01,"v":55.14},{"s":"δ_HP02","f":3.02,"v":53.41},{"s":"δ_HP02","f":3.99,"v":51.37},{"s":"δ_HP02","f":4.05,"v":51.84},{"s":"δ_HP02","f":5.06,"v":50.9},{"s":"δ_HP02","f":6.07,"v":50.27},{"s":"δ_HP02","f":7.08,"v":49.32},{"s":"δ_HP02","f":7.81,"v":47.91},{"s":"δ_HP02","f":8.14,"v":48.85},{"s":"δ_HP02","f":9.23,"v":48.06},{"s":"δ_HP02","f":10.0,"v":47.59},{"s":"δ_HP02","f":11.9,"v":45.71},{"s":"δ_HP02","f":13.65,"v":45.08},{"s":"δ_HP02","f":15.9,"v":44.61},{"s":"δ_HP02","f":17.8,"v":43.98},{"s":"δ_HP02","f":19.9,"v":43.19},{"s":"δ_HP02","f":30.7,"v":41.15},{"s":"δ_HP02","f":37.4,"v":40.68},{"s":"δ_HP02","f":39.0,"v":40.2},{"s":"δ_HP02","f":58.4,"v":38.32},{"s":"δ_HP02","f":76.2,"v":37.06},{"s":"δ_HP02","f":99.4,"v":36.12},{"s":"δ_HP02","f":114,"v":35.17},{"s":"δ_HP02","f":141,"v":34.7},{"s":"δ_HP02","f":158,"v":34.07},{"s":"δ_HP02","f":181.5,"v":33.6},{"s":"δ_HP02","f":192,"v":32.97},{"s":"δ_HP02","f":230,"v":32.03},{"s":"δ_HP02","f":261,"v":31.56},{"s":"δ_HP02","f":309,"v":30.93},{"s":"δ_HP02","f":345,"v":30.14},{"s":"δ_HP02","f":375,"v":29.83},{"s":"δ_HP02","f":596,"v":28.1},{"s":"δ_HP02","f":756,"v":27.15},{"s":"δ_HP02","f":1117,"v":25.74},{"s":"δ_HP02","f":1498,"v":24.8},{"s":"δ_HP02","f":1900,"v":24.17},{"s":"δ_HP02","f":2248,"v":23.54},{"s":"δ_HP02","f":2622,"v":22.91},{"s":"δ_HP02","f":3010,"v":22.59},{"s":"δ_HP02","f":3323,"v":22.12},{"s":"δ_HP02","f":3770,"v":21.97}
]},
"encoding":{
"x":{"field":"f","type":"quantitative","scale":{"type":"log","domain":[0.0001,10000]},
"axis":{"values":[0.0001,0.001,0.01,0.1,1,10,100,1000,10000],"labelExpr":"'1.00E' + (datum.value < 0.99 ? '-' : '+') + '0' + abs(round(log(datum.value)/LN10))","grid":true,"labelPadding":9,"title":"Reduced frequency (Hz)","titleFontSize":21,"titleX":628,"titleY":50,"titleBaseline":"alphabetic","titleAlign":"center"}},
"shape":{"field":"s","type":"nominal","title":" ","scale":{"domain":["|G*|_LJH","|G*|_JH","|G*|_B5070","|G*|_LH","δ_LJH","δ_JH","δ_LH","δ_HP02"],"range":["diamond","square","triangle-up","circle","triangle-up","M-1,-1L1,1M-1,1L1,-1","M-1,-1L1,1M-1,1L1,-1","M-1,-1L1,1M-1,1L1,-1M0,-1.25L0,1.25"]}},
"fill":{"field":"s","type":"nominal","title":" ","scale":{"domain":["|G*|_LJH","|G*|_JH","|G*|_B5070","|G*|_LH","δ_LJH","δ_JH","δ_LH","δ_HP02"],"range":["#2F5597","#C55A11","#ED7D31","#7F7F7F","#7F7F7F","transparent","transparent","transparent"]}},
"stroke":{"field":"s","type":"nominal","title":" ","scale":{"domain":["|G*|_LJH","|G*|_JH","|G*|_B5070","|G*|_LH","δ_LJH","δ_JH","δ_LH","δ_HP02"],"range":["#2F5597","#C55A11","#ED7D31","#7F7F7F","#7F7F7F","#D4A20F","#4A6F2C","#D00000"]}},
"size":{"field":"s","type":"nominal","scale":{"domain":["δ_HP02","δ_LH","δ_JH","δ_LJH","|G*|_LH","|G*|_B5070","|G*|_JH","|G*|_LJH"],"range":[110,90,90,75,130,110,49,64]},"legend":null}
},
"layer":[
{"transform":[{"filter":{"field":"s","oneOf":["|G*|_LJH","|G*|_JH","|G*|_B5070","|G*|_LH"]}}],
"mark":{"type":"point","opacity":1,"strokeWidth":1},
"encoding":{"y":{"field":"v","type":"quantitative","scale":{"type":"log","domain":[0.001,1000]},
"axis":{"orient":"left","values":[0.001,0.01,0.1,1,10,100,1000],"labelExpr":"'1.00E' + (datum.value < 0.99 ? '-' : '+') + '0' + abs(round(log(datum.value)/LN10))","grid":true,"labelPadding":17,"title":"|G*| (MPa)","titleFontSize":21,"titleAngle":270,"titleX":-104,"titleY":318,"titleAlign":"center","titleBaseline":"middle"}}}},
{"transform":[{"filter":{"field":"s","oneOf":["δ_LJH","δ_JH","δ_LH","δ_HP02"]}}],
"mark":{"type":"point","opacity":1,"strokeWidth":1},
"encoding":{"y":{"field":"v","type":"quantitative","scale":{"domain":[0,100]},
"axis":{"orient":"right","values":[0,10,20,30,40,50,60,70,80,90,100],"grid":false,"labelPadding":15,"title":"δ (°)","titleFontSize":21,"titleAngle":270,"titleX":68,"titleY":318,"titleAlign":"center","titleBaseline":"middle"}}}}
],
"resolve":{"scale":{"y":"independent"},"axis":{"y":"independent"}}
}
